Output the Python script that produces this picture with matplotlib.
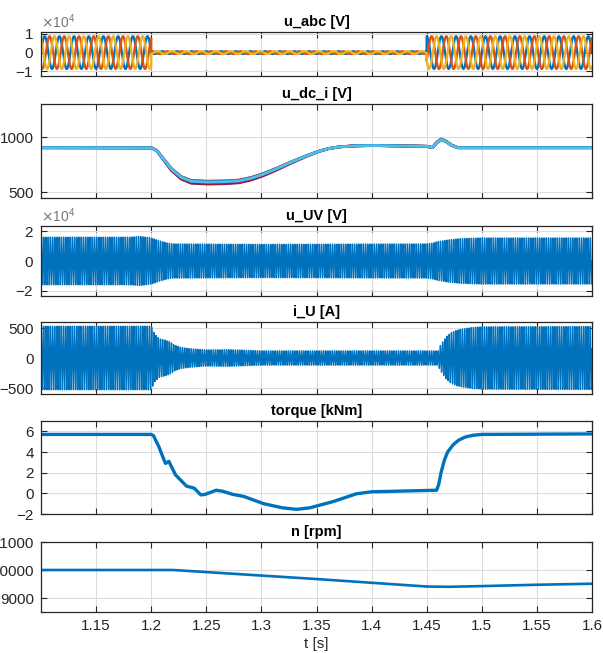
import numpy as np
import matplotlib
matplotlib.use("Agg")
import matplotlib.pyplot as plt
from matplotlib.ticker import ScalarFormatter

plt.rcParams['font.family'] = ['Liberation Sans', 'DejaVu Sans']

# --- data ---
# u_abc: three phase voltage, amplitude in V per time segment
abc_freq = 75.0
abc_seg_t = [1.1, 1.2, 1.45, 1.6]
abc_seg_amp = [8700, 700, 8700]

# u_dc_i: common shape of the dc-link voltages and spread per cell
udc_t = [1.1, 1.2, 1.205, 1.212, 1.218, 1.227, 1.236, 1.25, 1.264, 1.279, 1.29, 1.3, 1.312,
         1.324, 1.337, 1.35, 1.36, 1.37, 1.385, 1.4, 1.45, 1.455, 1.459, 1.463, 1.467, 1.472, 1.478, 1.6]
udc_v = [905, 905, 880, 790, 713, 636, 600, 592, 594, 602, 625, 657, 705,
         760, 815, 866, 895, 912, 922, 925, 918, 905, 950, 980, 965, 930, 905, 905]
udc_gain = [0.96, 0.95, 1.0, 1.08, 1.03, 1.06, 0.98, 0.97]
udc_offset = [4, 6, 0, -8, -3, -6, 2, 8]
udc_colors = ['#0072BD', '#D95319', '#EDB120', '#7E2F8E', '#77AC30', '#A2142F', '#0072BD', '#4DBEEE']

# u_UV: envelope (x1e4 V)
uv_freq = 500.0
uv_env_t = [1.1, 1.18, 1.19, 1.2, 1.205, 1.21, 1.215, 1.22, 1.3, 1.45, 1.455, 1.46, 1.47, 1.48, 1.5, 1.6]
uv_env = [1.6, 1.6, 1.65, 1.55, 1.42, 1.3, 1.2, 1.15, 1.12, 1.15, 1.2, 1.3, 1.42, 1.5, 1.55, 1.55]

# i_U: envelope (A)
iu_freq = 500.0
iu_env_t = [1.1, 1.2, 1.203, 1.2076, 1.212, 1.217, 1.221, 1.227, 1.233, 1.239, 1.25, 1.27, 1.3,
            1.4609, 1.4615, 1.4645, 1.4676, 1.472, 1.4767, 1.483, 1.492, 1.5, 1.6]
iu_env = [530, 530, 400, 320, 300, 270, 215, 177, 160, 150, 135, 140, 120,
          120, 180, 270, 350, 420, 460, 485, 510, 520, 525]

# torque (kNm)
tq_t = [1.1, 1.2, 1.202, 1.207, 1.211, 1.213, 1.216, 1.222, 1.232, 1.239, 1.245, 1.249, 1.259,
        1.265, 1.274, 1.284, 1.302, 1.319, 1.332, 1.344, 1.365, 1.386, 1.4, 1.459, 1.461, 1.463,
        1.466, 1.469, 1.474, 1.479, 1.485, 1.492, 1.5, 1.6]
tq_v = [5.7, 5.7, 5.6, 4.5, 3.4, 2.9, 3.1, 1.8, 0.7, 0.5, -0.15, -0.1, 0.3,
        0.2, -0.1, -0.3, -1.0, -1.4, -1.55, -1.4, -0.8, -0.05, 0.15, 0.3, 0.9, 2.0,
        3.2, 4.0, 4.7, 5.15, 5.45, 5.62, 5.7, 5.75]

# speed (rpm)
n_t = [1.1, 1.22, 1.35, 1.45, 1.47, 1.5, 1.55, 1.6]
n_v = [10000, 10000, 9677, 9410, 9400, 9425, 9473, 9510]

xticks = [1.15, 1.2, 1.25, 1.3, 1.35, 1.4, 1.45, 1.5, 1.55, 1.6]

# --- signals ---
t = np.linspace(1.1, 1.6, 50001)
amp = np.array(abc_seg_amp)[np.clip(np.searchsorted(abc_seg_t, t, side='right') - 1, 0, 2)]
u_abc = [amp * np.sin(2 * np.pi * abc_freq * (t - 1.1) - k * 2 * np.pi / 3) for k in range(3)]
u_uv = np.interp(t, uv_env_t, uv_env) * 1e4 * np.sin(2 * np.pi * uv_freq * t)
i_u = np.interp(t, iu_env_t, iu_env) * np.sin(2 * np.pi * iu_freq * t + 0.3)

# --- figure ---
fig = plt.figure(figsize=(6.03, 6.53), dpi=100)
W, H = 603.0, 653.0
left, right = 41, 592
boxes = [(32, 76), (104, 198), (226, 296), (322, 394), (421, 514), (542, 612)]
titles = ['u_abc [V]', 'u_dc_i [V]', 'u_UV [V]', 'i_U [A]', 'torque [kNm]', 'n [rpm]']
axes = []
for (top, bot), ttl in zip(boxes, titles):
    ax = fig.add_axes([left / W, 1 - bot / H, (right - left) / W, (bot - top) / H])
    ax.set_title(ttl, fontsize=10.5, fontweight='bold', color='#000000', pad=4)
    ax.set_xlim(1.1, 1.6)
    ax.set_xticks(xticks)
    ax.grid(True, color='#dcdcdc', linewidth=0.8)
    ax.set_axisbelow(True)
    ax.tick_params(direction='in', length=4, top=True, right=True, labelsize=11,
                   colors='#262626', width=0.8, pad=5)
    for s in ax.spines.values():
        s.set_color('#262626')
        s.set_linewidth(0.9)
    if ttl != 'n [rpm]':
        ax.tick_params(labelbottom=False)
    axes.append(ax)

blue = '#0072BD'
ax = axes[0]
for y, c in zip(u_abc, ['#0072BD', '#D95319', '#EDB120']):
    ax.plot(t, y, color=c, lw=1.7)
ax.set_ylim(-12500, 11000)
ax.set_yticks([-1e4, 0, 1e4])

ax = axes[1]
base = np.interp(t, udc_t, udc_v)
for g, o, c in zip(udc_gain, udc_offset, udc_colors):
    ax.plot(t, 905 + (base - 905) * g + o * (base - 905) / 300, color=c, lw=2.0)
ax.set_ylim(450, 1300)
ax.set_yticks([500, 1000])

ax = axes[2]
ax.plot(t, u_uv, color=blue, lw=1.0)
ax.set_ylim(-2.35e4, 2.35e4)
ax.set_yticks([-2e4, 0, 2e4])

ax = axes[3]
ax.plot(t, i_u, color=blue, lw=1.0)
ax.set_ylim(-600, 600)
ax.set_yticks([-500, 0, 500])

ax = axes[4]
ax.plot(tq_t, tq_v, color=blue, lw=2.4)
ax.set_ylim(-2, 7)
ax.set_yticks([-2, 0, 2, 4, 6])

ax = axes[5]
ax.plot(n_t, n_v, color=blue, lw=1.9)
ax.set_ylim(8500, 11000)
ax.set_yticks([9000, 10000, 11000])
ax.set_xlabel('t [s]', fontsize=11, color='#262626', labelpad=3)
ax.set_xticklabels(['1.15', '1.2', '1.25', '1.3', '1.35', '1.4', '1.45', '1.5', '1.55', '1.6'])

for a in (axes[0], axes[2]):
    fmt = ScalarFormatter(useMathText=True)
    fmt.set_powerlimits((0, 0))
    a.yaxis.set_major_formatter(fmt)
    a.yaxis.get_offset_text().set_fontsize(10)
    a.yaxis.get_offset_text().set_color('#777777')

fig.savefig('out.png', dpi=100)
